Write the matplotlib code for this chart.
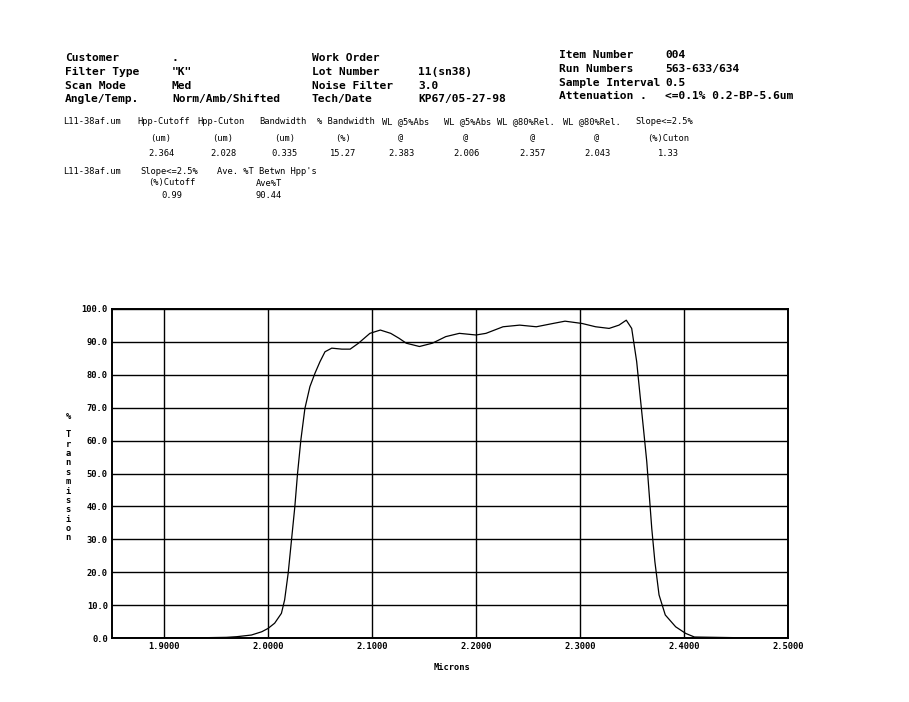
import matplotlib
matplotlib.use('Agg')
import matplotlib.pyplot as plt

# spectrum (microns, % transmission)
wl = [1.850, 1.900, 1.940, 1.960, 1.970, 1.984, 1.994, 2.000, 2.0064, 2.0129,
      2.016, 2.0194, 2.0226, 2.0258, 2.0284, 2.0316, 2.0355, 2.0403, 2.0452, 2.050,
      2.0548, 2.0613, 2.071, 2.079, 2.087, 2.098, 2.108, 2.118, 2.126, 2.133,
      2.1456, 2.158, 2.1709, 2.184, 2.200, 2.2096, 2.226, 2.242, 2.258, 2.274,
      2.2856, 2.302, 2.315, 2.328, 2.3375, 2.3445, 2.3497, 2.3545, 2.3577, 2.361,
      2.3642, 2.3666, 2.369, 2.372, 2.376, 2.382, 2.392, 2.4016, 2.410, 2.450, 2.500]
tr = [0.0, 0.0, 0.1, 0.2, 0.4, 0.9, 1.9, 2.9, 4.5, 7.5,
      11.6, 19.7, 29.8, 39.9, 50.0, 60.2, 69.8, 76.4, 80.5, 84.0,
      87.0, 88.1, 87.8, 87.8, 89.6, 92.6, 93.6, 92.6, 91.1, 89.6,
      88.6, 89.6, 91.6, 92.6, 92.1, 92.6, 94.6, 95.1, 94.6, 95.6,
      96.3, 95.6, 94.6, 94.1, 95.1, 96.6, 94.1, 84.0, 73.9, 63.7,
      53.6, 43.5, 33.3, 23.2, 13.1, 7.0, 3.4, 1.4, 0.3, 0.1, 0.1]

xticks = [1.9, 2.0, 2.1, 2.2, 2.3, 2.4, 2.5]
yticks = [0, 10, 20, 30, 40, 50, 60, 70, 80, 90, 100]

# header block
hdr_lab1 = ['Customer', 'Filter Type', 'Scan Mode', 'Angle/Temp.']
hdr_val1 = ['.', '"K"', 'Med', 'Norm/Amb/Shifted']
hdr_lab2 = ['Work Order', 'Lot Number', 'Noise Filter', 'Tech/Date']
hdr_val2 = ['', '11(sn38)', '3.0', 'KP67/05-27-98']
hdr_lab3 = ['Item Number', 'Run Numbers', 'Sample Interval', 'Attenuation .']
hdr_val3 = ['004', '563-633/634', '0.5', '<=0.1% 0.2-BP-5.6um']

# results table
tbl_head = ['Hpp-Cutoff', 'Hpp-Cuton', 'Bandwidth', '% Bandwidth', 'WL @5%Abs',
            'WL @5%Abs', 'WL @80%Rel.', 'WL @80%Rel.', 'Slope<=2.5%']
tbl_unit = ['(um)', '(um)', '(um)', '(%)', '@', '@', '@', '@', '(%)Cuton']
tbl_vals = ['2.364', '2.028', '0.335', '15.27', '2.383', '2.006', '2.357', '2.043', '1.33']
tbl2_head = ['Slope<=2.5%', 'Ave. %T Betwn Hpp\'s']
tbl2_unit = ['(%)Cutoff', 'Ave%T']
tbl2_vals = ['0.99', '90.44']

W, H = 909, 702
fig = plt.figure(figsize=(W / 100, H / 100), dpi=100)
mono = 'DejaVu Sans Mono'


def px(x, y, s, size=8.1, ha='left', **kw):
    fig.text(x / W, 1 - y / H, s, fontsize=size, ha=ha, va='center',
             family=mono, **kw)


for i in range(4):
    y1 = 58 + i * 13.8
    y3 = 55 + i * 13.8
    px(65, y1, hdr_lab1[i], fontweight='semibold')
    px(172, y1, hdr_val1[i], fontweight='semibold')
    px(312, y1, hdr_lab2[i], fontweight='semibold')
    px(418, y1, hdr_val2[i], fontweight='semibold')
    px(559, y3, hdr_lab3[i], fontweight='semibold')
    px(665, y3, hdr_val3[i], fontweight='semibold')

ts = 6.3
hx = [137, 197, 259, 317, 382, 444, 497, 563, 635]
cx = [161, 223, 285, 343, 401, 466, 532, 597, 668]
px(63, 122, 'L11-38af.um', ts)
for i in range(len(tbl_head)):
    px(hx[i], 122, tbl_head[i], ts)
    px(cx[i], 138, tbl_unit[i], ts, ha='center')
    px(cx[i], 153, tbl_vals[i], ts, ha='center')

px(63, 171, 'L11-38af.um', ts)
px(140, 171, tbl2_head[0], ts)
px(217, 171, tbl2_head[1], ts)
for i, c in enumerate([172, 269]):
    px(c, 183, tbl2_unit[i], ts, ha='center')
    px(c, 195, tbl2_vals[i], ts, ha='center')

ax = fig.add_axes([112 / W, 1 - 638 / H, (788 - 112) / W, (638 - 309) / H])
ax.plot(wl, tr, color='black', lw=0.9)
ax.set_xlim(1.85, 2.5)
ax.set_ylim(0, 100)
ax.set_xticks(xticks)
ax.set_xticklabels(['%.4f' % v for v in xticks])
ax.set_yticks(yticks)
ax.set_yticklabels(['%.1f' % v for v in yticks])
ax.grid(True, color='black', lw=1.0)
ax.tick_params(length=0, pad=3, labelsize=6.3)
for lab in ax.get_xticklabels() + ax.get_yticklabels():
    lab.set_family(mono)
    lab.set_fontweight('bold')
for s in ax.spines.values():
    s.set_linewidth(1.4)

px(452, 667, 'Microns', 6.3, ha='center', fontweight='bold')
fig.text(68 / W, 1 - 477 / H, '%\n\n' + '\n'.join('Transmission'), fontsize=6.3,
         family=mono, fontweight='bold', ha='center', va='center', linespacing=1.05)

fig.savefig('out.png', dpi=100)
